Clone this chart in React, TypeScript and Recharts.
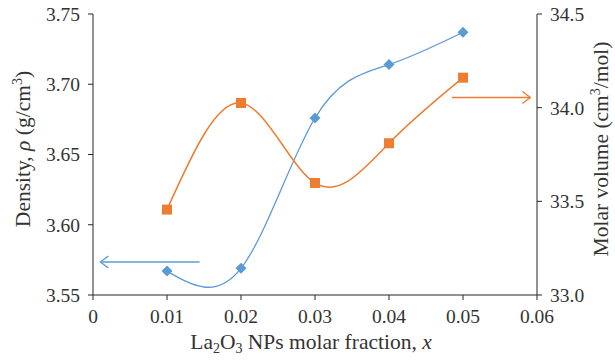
import React from 'react';
import {
  LineChart,
  Line,
  XAxis,
  YAxis,
  ReferenceLine,
} from 'recharts';

const fractions = [0.01, 0.02, 0.03, 0.04, 0.05];
const density = [3.567, 3.569, 3.676, 3.714, 3.737];
const molarVolume = [33.456, 34.025, 33.598, 33.81, 34.16];

const xTicks = [0, 0.01, 0.02, 0.03, 0.04, 0.05, 0.06];
const densityTicks = [3.55, 3.6, 3.65, 3.7, 3.75];
const volumeTicks = [33.0, 33.5, 34.0, 34.5];

const chartData = fractions.map((x, i) => ({
  x,
  density: density[i],
  volume: molarVolume[i],
}));

const BLUE = '#5B9BD5';
const ORANGE = '#ED7D31';
const AXIS = '#262626';
const FONT = '"Liberation Serif", "DejaVu Serif", serif';
const TEXT = '#333333';

const Diamond = (props: any) => {
  const { cx, cy } = props;
  if (cx == null || cy == null) return null;
  const r = 5.5;
  return (
    <polygon
      points={`${cx},${cy - r} ${cx + r},${cy} ${cx},${cy + r} ${cx - r},${cy}`}
      fill={BLUE}
    />
  );
};

const Square = (props: any) => {
  const { cx, cy } = props;
  if (cx == null || cy == null) return null;
  const h = 5;
  return <rect x={cx - h} y={cy - h} width={h * 2} height={h * 2} fill={ORANGE} />;
};

const arrow = (color: string) => (props: any) => {
  const { x1, y1, x2, y2 } = props;
  const dir = x2 > x1 ? 1 : -1;
  return (
    <g>
      <line x1={x1} y1={y1} x2={x2} y2={y2} stroke={color} strokeWidth={1.5} />
      <polyline
        points={`${x2 - dir * 8},${y2 - 6} ${x2},${y2} ${x2 - dir * 8},${y2 + 6}`}
        fill="none"
        stroke={color}
        strokeWidth={1.3}
      />
    </g>
  );
};

const LABEL_SIZE = 21.5;
const SUP_SIZE = 14;

const LeftLabel = () => (
  <text
    transform="translate(30,149) rotate(-90)"
    textAnchor="middle"
    fontFamily={FONT}
    fontSize={LABEL_SIZE}
    fill={TEXT}
  >
    Density, <tspan fontStyle="italic">ρ</tspan> (g/cm
    <tspan fontSize={SUP_SIZE} dy={-8}>3</tspan>
    <tspan dy={8}>)</tspan>
  </text>
);

const RightLabel = () => (
  <text
    transform="translate(608,149) rotate(-90)"
    textAnchor="middle"
    fontFamily={FONT}
    fontSize={LABEL_SIZE}
    fill={TEXT}
  >
    Molar volume (cm
    <tspan fontSize={SUP_SIZE} dy={-8}>3</tspan>
    <tspan dy={8}>/mol)</tspan>
  </text>
);

const BottomLabel = () => (
  <text x={311} y={349} textAnchor="middle" fontFamily={FONT} fontSize={LABEL_SIZE} fill={TEXT}>
    La<tspan fontSize={SUP_SIZE} dy={4}>2</tspan>
    <tspan dy={-4}>O</tspan>
    <tspan fontSize={SUP_SIZE} dy={4}>3</tspan>
    <tspan dy={-4}> NPs molar fraction, </tspan>
    <tspan fontStyle="italic">x</tspan>
  </text>
);

const tickStyle = { fontFamily: FONT, fontSize: 19.5, fill: TEXT };

export default function App() {
  return (
    <div style={{ position: 'absolute', left: 0, top: 0, width: 615, height: 362, background: '#fff' }}>
      <LineChart
        width={615}
        height={362}
        data={chartData}
        margin={{ top: 14, right: 0, bottom: 0, left: 0 }}
      >
        <XAxis
          dataKey="x"
          type="number"
          domain={[0, 0.06]}
          ticks={xTicks}
          tickFormatter={(v: number) => (v === 0 ? '0' : v.toFixed(2))}
          height={67}
          stroke={AXIS}
          tickSize={5}
          tickMargin={9}
          tick={tickStyle}
          allowDataOverflow
        />
        <YAxis
          yAxisId="left"
          orientation="left"
          domain={[3.55, 3.75]}
          ticks={densityTicks}
          tickFormatter={(v: number) => v.toFixed(2)}
          width={93}
          stroke={AXIS}
          tickSize={5}
          tickMargin={8}
          tick={tickStyle}
          allowDataOverflow
        />
        <YAxis
          yAxisId="right"
          orientation="right"
          domain={[33, 34.5]}
          ticks={volumeTicks}
          tickFormatter={(v: number) => v.toFixed(1)}
          width={78}
          stroke={AXIS}
          tickSize={5}
          tickMargin={8}
          tick={tickStyle}
          allowDataOverflow
        />
        <ReferenceLine
          yAxisId="left"
          segment={[{ x: 0.0144, y: 3.5735 }, { x: 0.001, y: 3.5735 }]}
          shape={arrow(BLUE)}
          ifOverflow="visible"
        />
        <ReferenceLine
          yAxisId="right"
          segment={[{ x: 0.0485, y: 34.054 }, { x: 0.0591, y: 34.054 }]}
          shape={arrow(ORANGE)}
          ifOverflow="visible"
        />
        <Line
          yAxisId="left"
          type="natural"
          dataKey="density"
          stroke={BLUE}
          strokeWidth={1.3}
          dot={<Diamond />}
          activeDot={false}
          isAnimationActive={false}
        />
        <Line
          yAxisId="right"
          type="natural"
          dataKey="volume"
          stroke={ORANGE}
          strokeWidth={1.5}
          dot={<Square />}
          activeDot={false}
          isAnimationActive={false}
        />
      </LineChart>
      <svg
        width={615}
        height={362}
        style={{ position: 'absolute', left: 0, top: 0, pointerEvents: 'none' }}
      >
        <LeftLabel />
        <RightLabel />
        <BottomLabel />
      </svg>
    </div>
  );
}
